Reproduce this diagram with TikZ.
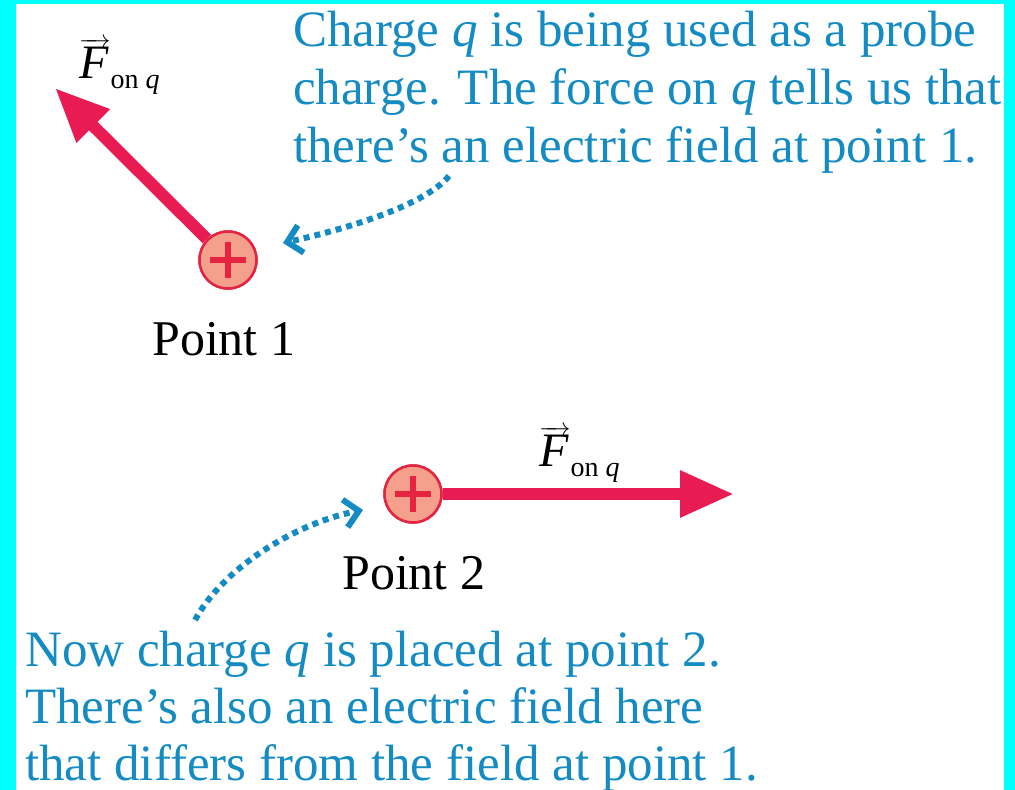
\documentclass[tikz,border=0pt]{standalone}
\usepackage{fontspec}
\setmainfont{Liberation Serif}
\usetikzlibrary{arrows.meta,calc}
\definecolor{bgcyan}{RGB}{0,255,255}
\definecolor{txtblue}{RGB}{20,140,195}
\definecolor{forcered}{RGB}{232,28,82}
\definecolor{chgfill}{RGB}{244,160,140}
\definecolor{chgline}{RGB}{228,36,64}
\tikzset{
  x=1pt, y=-1pt,
  bluetext/.style={anchor=base west, inner sep=0pt, text=txtblue, font=\fontsize{51}{58}\selectfont},
  blacktext/.style={anchor=base west, inner sep=0pt, text=black, font=\fontsize{50}{58}\selectfont},
  flabel/.style={anchor=base west, inner sep=0pt, text=black, font=\fontsize{48}{52}\selectfont},
  charge/.style={circle, draw=chgline, fill=chgfill, line width=2.5pt, minimum size=57pt, inner sep=0pt},
  force/.style={draw=forcered, line width=12pt, -{Triangle[length=54pt, width=44pt]}, forcered},
  probe/.style={draw=txtblue, line width=6pt, dash pattern=on 6pt off 5pt, -{Straight Barb[length=14pt, width=28pt, line width=6pt]}},
}
\newcommand{\plussign}[1]{%
  \draw[chgline, line width=5.5pt] ($(#1)+(-18,0)$) -- ($(#1)+(18,0)$);
  \draw[chgline, line width=5.5pt] ($(#1)+(0,-18)$) -- ($(#1)+(0,18)$);}
\newcommand{\Fonq}{$\overrightarrow{\mbox{\itshape F\kern2pt}}$\raisebox{-10pt}{\fontsize{28}{30}\selectfont on \itshape q}}
\begin{document}
\begin{tikzpicture}
\fill[bgcyan] (0,0) rectangle (1015,790);
\fill[white] (16,4) rectangle (1004,790);
\useasboundingbox (0,0) rectangle (1015,790);

% coordinates
\coordinate (tip1) at (55,88);
\coordinate (tip2) at (734,494);

% force arrows
\node[charge] (c1) at (228,260) {};
\node[charge] (c2) at (413,494) {};
\draw[force] (c1) -- (tip1);
\draw[force] (c2) -- (tip2);
\node[charge] at (c1) {};
\node[charge] at (c2) {};
\plussign{c1}
\plussign{c2}

% force labels
\node[flabel] (f1) at (79,78) {\Fonq};
\node[flabel] (f2) at (539,466) {\Fonq};

% point labels
\node[blacktext] (p1) at (152,355) {Point 1};
\node[blacktext] (p2) at (342,589) {Point 2};

% text block 1
\node[bluetext] (t1a) at (293,46) {Charge \textit{q} is being used as a probe};
\node[bluetext] (t1b) at (293,104) {charge. The force on \textit{q} tells us that};
\node[bluetext] (t1c) at (293,162) {there’s an electric field at point 1.};

% text block 2
\node[bluetext] (t2a) at (25,666) {Now charge \textit{q} is placed at point 2.};
\node[bluetext] (t2b) at (25,723) {There’s also an electric field here};
\node[bluetext] (t2c) at (25,780) {that differs from the field at point 1.};

% probe arrows
\coordinate (s1) at (449,176);
\coordinate (e1) at (283,243);
\draw[probe] (s1) .. controls (425,205) and (350,228) .. (e1);
\coordinate (s2) at (195,620);
\coordinate (e2) at (363,510);
\draw[probe] (s2) .. controls (225,565) and (300,522) .. (e2);
\end{tikzpicture}
\end{document}
